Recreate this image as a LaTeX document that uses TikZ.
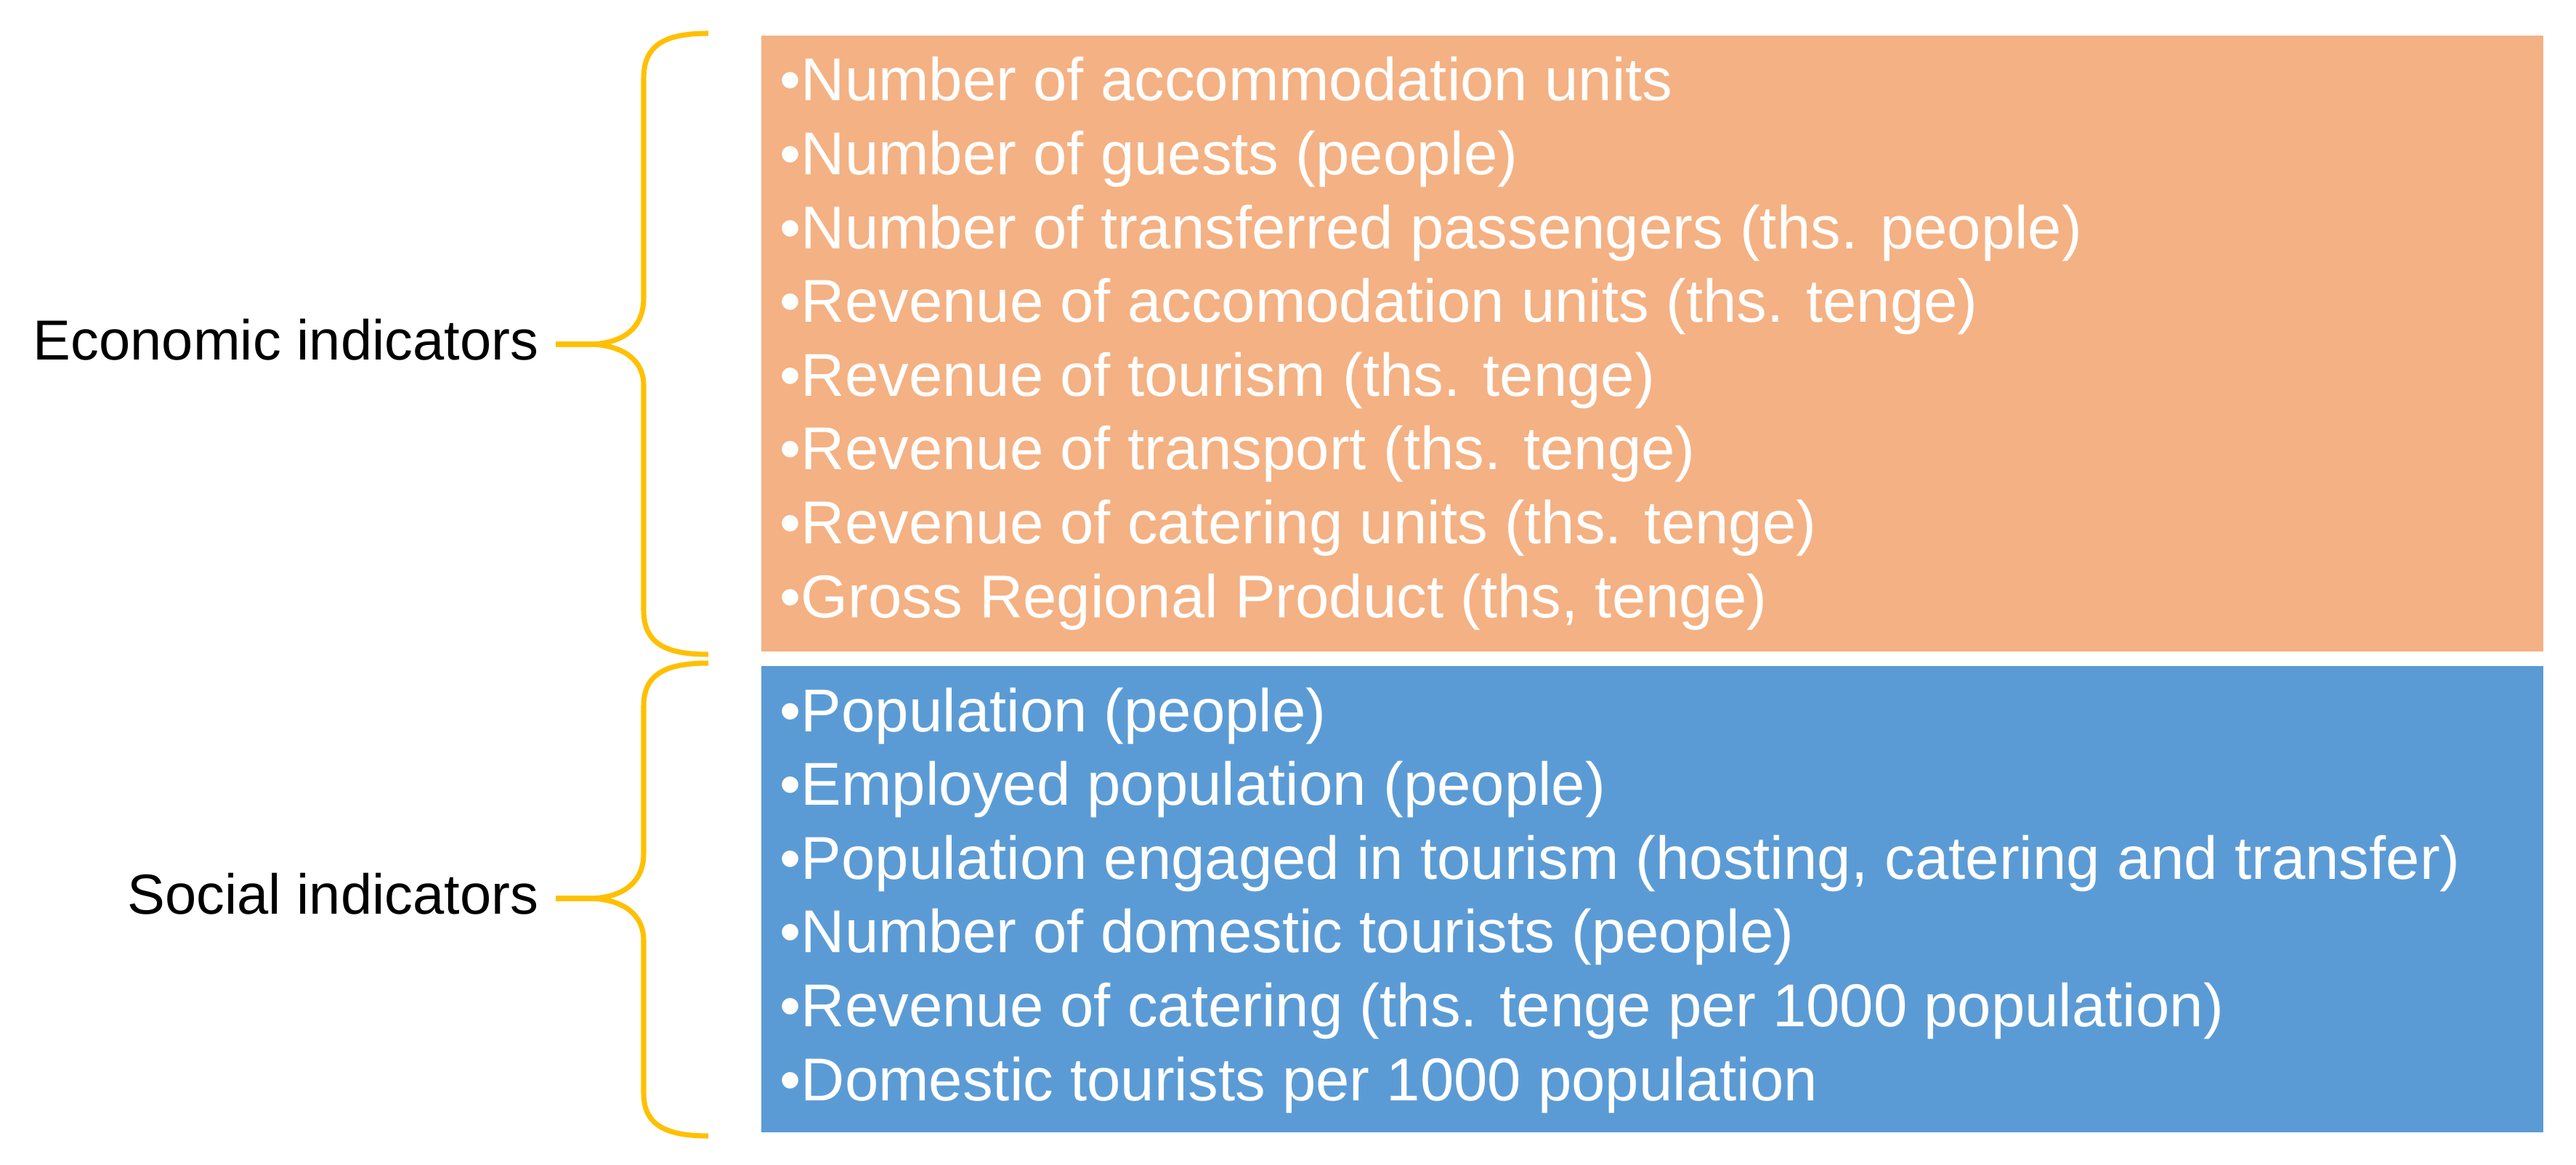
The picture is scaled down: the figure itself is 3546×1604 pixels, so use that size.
\documentclass[tikz,border=0pt]{standalone}
\usepackage{fontspec}
\setmainfont{Liberation Sans}
\definecolor{orangebox}{HTML}{F4B183}
\definecolor{bluebox}{HTML}{5B9BD5}
\definecolor{bracecol}{HTML}{FFC000}
\begin{document}
\begin{tikzpicture}[x=0.01cm,y=-0.01cm,
  panel/.style={inner sep=0pt, draw=none, minimum width=24.51cm},
  item/.style={anchor=base west, inner sep=0pt, text=white, font=\fontsize{23.7}{28}\selectfont},
  lab/.style={anchor=base east, inner sep=0pt, text=black, font=\fontsize{22.1}{27}\selectfont},
  brace/.style={draw=bracecol, line width=2pt, line cap=butt, line join=round}]
\useasboundingbox (0,0) rectangle (3546,1604);

\node[panel, fill=orangebox, minimum height=8.48cm] (econbox) at (2274.5,473) {};
\node[panel, fill=bluebox, minimum height=6.42cm] (socbox) at (2274.5,1238) {};

\foreach \t [count=\i from 0] in {
  •Number of accommodation units,
  •Number of guests (people),
  •Number of transferred passengers (ths. people),
  •Revenue of accomodation units (ths. tenge),
  •Revenue of tourism (ths. tenge),
  •Revenue of transport (ths. tenge),
  •Revenue of catering units (ths. tenge),
  {•Gross Regional Product (ths, tenge)}}
  \node[item] (e\i) at (1073,139+\i*101.6) {\t};

\foreach \t [count=\i from 0] in {
  •Population (people),
  •Employed population (people),
  {•Population engaged in tourism (hosting, catering and transfer)},
  •Number of domestic tourists (people),
  •Revenue of catering (ths. tenge per 1000 population),
  •Domestic tourists per 1000 population}
  \node[item] (s\i) at (1073,1007+\i*101.6) {\t};

\node[lab] (econ) at (742,496) {Economic indicators};
\node[lab] (soc) at (742,1258) {Social indicators};

% upper brace
\coordinate (etip) at (765,474);
\draw[brace] (975,46) .. controls (915,46) and (886,62) .. (886,108)
  -- (886,410) .. controls (886,452) and (858,472) .. (815,474) -- (etip);
\draw[brace] (etip) -- (815,474) .. controls (858,476) and (886,496) .. (886,530)
  -- (886,840) .. controls (886,885) and (915,901) .. (975,901);
% lower brace
\coordinate (stip) at (765,1237);
\draw[brace] (975,913) .. controls (915,913) and (886,929) .. (886,972)
  -- (886,1175) .. controls (886,1215) and (858,1235) .. (815,1237) -- (stip);
\draw[brace] (stip) -- (815,1237) .. controls (858,1239) and (886,1259) .. (886,1295)
  -- (886,1505) .. controls (886,1548) and (915,1564) .. (975,1564);
\end{tikzpicture}
\end{document}
